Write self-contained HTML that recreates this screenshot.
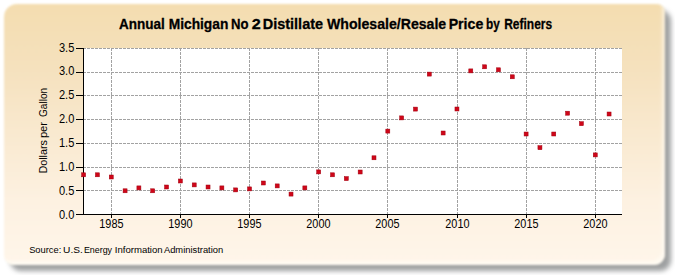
<!DOCTYPE html>
<html><head><meta charset="utf-8"><style>
html,body{margin:0;padding:0;width:675px;height:275px;overflow:hidden;background:#fff;}
.shadow{position:absolute;left:10px;top:9.5px;width:660.6px;height:261.3px;border-radius:11px;background:rgba(30,34,38,0.43);filter:blur(2.8px);}
.panel{position:absolute;left:3.5px;top:4px;width:661px;height:261px;border-radius:13px 8px 11px 9px;
background:linear-gradient(to bottom,#f4ddb0 0%,#f5e1bd 24%,#f9e9cf 49%,#fdf1e1 75%,#fff6ea 100%);
box-shadow:inset -3px -4px 3px rgba(255,255,250,0.55);filter:blur(1.1px);}
svg{position:absolute;left:0;top:0;}
text{font-family:"Liberation Sans",sans-serif;fill:#000;}
.t{font-size:12px;}
.title{font-size:14.9px;font-weight:bold;stroke:#000;stroke-width:0.3px;}
.yl{font-size:10.9px;}
.src{font-size:10.0px;}
</style></head><body>
<div class="shadow"></div><div class="panel"></div>
<svg width="675" height="275" viewBox="0 0 675 275" shape-rendering="crispEdges">
<rect x="83" y="48" width="539" height="166" fill="#ffffff"/>
<line x1="83" y1="48.5" x2="622" y2="48.5" stroke="#a2a2a2" stroke-width="1" stroke-dasharray="3,1"/>
<line x1="83" y1="72.5" x2="622" y2="72.5" stroke="#a2a2a2" stroke-width="1" stroke-dasharray="3,1"/>
<line x1="83" y1="95.5" x2="622" y2="95.5" stroke="#a2a2a2" stroke-width="1" stroke-dasharray="3,1"/>
<line x1="83" y1="119.5" x2="622" y2="119.5" stroke="#a2a2a2" stroke-width="1" stroke-dasharray="3,1"/>
<line x1="83" y1="143.5" x2="622" y2="143.5" stroke="#a2a2a2" stroke-width="1" stroke-dasharray="3,1"/>
<line x1="83" y1="167.5" x2="622" y2="167.5" stroke="#a2a2a2" stroke-width="1" stroke-dasharray="3,1"/>
<line x1="83" y1="190.5" x2="622" y2="190.5" stroke="#a2a2a2" stroke-width="1" stroke-dasharray="3,1"/>
<line x1="111.5" y1="48" x2="111.5" y2="214" stroke="#a2a2a2" stroke-width="1" stroke-dasharray="3,1"/>
<line x1="180.5" y1="48" x2="180.5" y2="214" stroke="#a2a2a2" stroke-width="1" stroke-dasharray="3,1"/>
<line x1="249.5" y1="48" x2="249.5" y2="214" stroke="#a2a2a2" stroke-width="1" stroke-dasharray="3,1"/>
<line x1="318.5" y1="48" x2="318.5" y2="214" stroke="#a2a2a2" stroke-width="1" stroke-dasharray="3,1"/>
<line x1="387.5" y1="48" x2="387.5" y2="214" stroke="#a2a2a2" stroke-width="1" stroke-dasharray="3,1"/>
<line x1="457.5" y1="48" x2="457.5" y2="214" stroke="#a2a2a2" stroke-width="1" stroke-dasharray="3,1"/>
<line x1="526.5" y1="48" x2="526.5" y2="214" stroke="#a2a2a2" stroke-width="1" stroke-dasharray="3,1"/>
<line x1="595.5" y1="48" x2="595.5" y2="214" stroke="#a2a2a2" stroke-width="1" stroke-dasharray="3,1"/>
<line x1="83.5" y1="48" x2="83.5" y2="215" stroke="#000" stroke-width="1"/>
<line x1="83" y1="214.5" x2="622" y2="214.5" stroke="#000" stroke-width="1"/>
<line x1="76" y1="48.5" x2="83" y2="48.5" stroke="#000" stroke-width="1"/>
<text transform="translate(74.3 51.60) scale(0.923 1)" text-anchor="end" class="t">3.5</text>
<line x1="76" y1="72.5" x2="83" y2="72.5" stroke="#000" stroke-width="1"/>
<text transform="translate(74.3 75.47) scale(0.923 1)" text-anchor="end" class="t">3.0</text>
<line x1="76" y1="95.5" x2="83" y2="95.5" stroke="#000" stroke-width="1"/>
<text transform="translate(74.3 99.34) scale(0.923 1)" text-anchor="end" class="t">2.5</text>
<line x1="76" y1="119.5" x2="83" y2="119.5" stroke="#000" stroke-width="1"/>
<text transform="translate(74.3 123.21) scale(0.923 1)" text-anchor="end" class="t">2.0</text>
<line x1="76" y1="143.5" x2="83" y2="143.5" stroke="#000" stroke-width="1"/>
<text transform="translate(74.3 147.08) scale(0.923 1)" text-anchor="end" class="t">1.5</text>
<line x1="76" y1="167.5" x2="83" y2="167.5" stroke="#000" stroke-width="1"/>
<text transform="translate(74.3 170.95) scale(0.923 1)" text-anchor="end" class="t">1.0</text>
<line x1="76" y1="190.5" x2="83" y2="190.5" stroke="#000" stroke-width="1"/>
<text transform="translate(74.3 194.82) scale(0.923 1)" text-anchor="end" class="t">0.5</text>
<line x1="76" y1="214.5" x2="83" y2="214.5" stroke="#000" stroke-width="1"/>
<text transform="translate(74.3 218.69) scale(0.923 1)" text-anchor="end" class="t">0.0</text>
<line x1="111.5" y1="215" x2="111.5" y2="218" stroke="#000" stroke-width="1"/>
<text transform="translate(111.4 228.2) scale(0.905 1)" text-anchor="middle" class="t">1985</text>
<line x1="180.5" y1="215" x2="180.5" y2="218" stroke="#000" stroke-width="1"/>
<text transform="translate(180.4 228.2) scale(0.905 1)" text-anchor="middle" class="t">1990</text>
<line x1="249.5" y1="215" x2="249.5" y2="218" stroke="#000" stroke-width="1"/>
<text transform="translate(249.4 228.2) scale(0.905 1)" text-anchor="middle" class="t">1995</text>
<line x1="318.5" y1="215" x2="318.5" y2="218" stroke="#000" stroke-width="1"/>
<text transform="translate(318.4 228.2) scale(0.905 1)" text-anchor="middle" class="t">2000</text>
<line x1="387.5" y1="215" x2="387.5" y2="218" stroke="#000" stroke-width="1"/>
<text transform="translate(387.4 228.2) scale(0.905 1)" text-anchor="middle" class="t">2005</text>
<line x1="457.5" y1="215" x2="457.5" y2="218" stroke="#000" stroke-width="1"/>
<text transform="translate(457.4 228.2) scale(0.905 1)" text-anchor="middle" class="t">2010</text>
<line x1="526.5" y1="215" x2="526.5" y2="218" stroke="#000" stroke-width="1"/>
<text transform="translate(526.4 228.2) scale(0.905 1)" text-anchor="middle" class="t">2015</text>
<line x1="595.5" y1="215" x2="595.5" y2="218" stroke="#000" stroke-width="1"/>
<text transform="translate(595.4 228.2) scale(0.905 1)" text-anchor="middle" class="t">2020</text>
<rect x="81.59" y="172.80" width="4" height="4" fill="#cf0619" stroke="#a0000f" stroke-width="0.5" shape-rendering="geometricPrecision"/>
<rect x="95.42" y="172.80" width="4" height="4" fill="#cf0619" stroke="#a0000f" stroke-width="0.5" shape-rendering="geometricPrecision"/>
<rect x="109.25" y="175.00" width="4" height="4" fill="#cf0619" stroke="#a0000f" stroke-width="0.5" shape-rendering="geometricPrecision"/>
<rect x="123.08" y="188.80" width="4" height="4" fill="#cf0619" stroke="#a0000f" stroke-width="0.5" shape-rendering="geometricPrecision"/>
<rect x="136.90" y="185.90" width="4" height="4" fill="#cf0619" stroke="#a0000f" stroke-width="0.5" shape-rendering="geometricPrecision"/>
<rect x="150.73" y="188.80" width="4" height="4" fill="#cf0619" stroke="#a0000f" stroke-width="0.5" shape-rendering="geometricPrecision"/>
<rect x="164.56" y="185.00" width="4" height="4" fill="#cf0619" stroke="#a0000f" stroke-width="0.5" shape-rendering="geometricPrecision"/>
<rect x="178.39" y="179.00" width="4" height="4" fill="#cf0619" stroke="#a0000f" stroke-width="0.5" shape-rendering="geometricPrecision"/>
<rect x="192.22" y="182.90" width="4" height="4" fill="#cf0619" stroke="#a0000f" stroke-width="0.5" shape-rendering="geometricPrecision"/>
<rect x="206.05" y="185.00" width="4" height="4" fill="#cf0619" stroke="#a0000f" stroke-width="0.5" shape-rendering="geometricPrecision"/>
<rect x="219.88" y="185.90" width="4" height="4" fill="#cf0619" stroke="#a0000f" stroke-width="0.5" shape-rendering="geometricPrecision"/>
<rect x="233.70" y="187.90" width="4" height="4" fill="#cf0619" stroke="#a0000f" stroke-width="0.5" shape-rendering="geometricPrecision"/>
<rect x="247.53" y="186.90" width="4" height="4" fill="#cf0619" stroke="#a0000f" stroke-width="0.5" shape-rendering="geometricPrecision"/>
<rect x="261.36" y="181.00" width="4" height="4" fill="#cf0619" stroke="#a0000f" stroke-width="0.5" shape-rendering="geometricPrecision"/>
<rect x="275.19" y="183.90" width="4" height="4" fill="#cf0619" stroke="#a0000f" stroke-width="0.5" shape-rendering="geometricPrecision"/>
<rect x="289.02" y="192.10" width="4" height="4" fill="#cf0619" stroke="#a0000f" stroke-width="0.5" shape-rendering="geometricPrecision"/>
<rect x="302.85" y="185.90" width="4" height="4" fill="#cf0619" stroke="#a0000f" stroke-width="0.5" shape-rendering="geometricPrecision"/>
<rect x="316.68" y="169.90" width="4" height="4" fill="#cf0619" stroke="#a0000f" stroke-width="0.5" shape-rendering="geometricPrecision"/>
<rect x="330.50" y="172.80" width="4" height="4" fill="#cf0619" stroke="#a0000f" stroke-width="0.5" shape-rendering="geometricPrecision"/>
<rect x="344.33" y="176.60" width="4" height="4" fill="#cf0619" stroke="#a0000f" stroke-width="0.5" shape-rendering="geometricPrecision"/>
<rect x="358.16" y="170.00" width="4" height="4" fill="#cf0619" stroke="#a0000f" stroke-width="0.5" shape-rendering="geometricPrecision"/>
<rect x="371.99" y="155.80" width="4" height="4" fill="#cf0619" stroke="#a0000f" stroke-width="0.5" shape-rendering="geometricPrecision"/>
<rect x="385.82" y="129.10" width="4" height="4" fill="#cf0619" stroke="#a0000f" stroke-width="0.5" shape-rendering="geometricPrecision"/>
<rect x="399.65" y="115.90" width="4" height="4" fill="#cf0619" stroke="#a0000f" stroke-width="0.5" shape-rendering="geometricPrecision"/>
<rect x="413.48" y="107.10" width="4" height="4" fill="#cf0619" stroke="#a0000f" stroke-width="0.5" shape-rendering="geometricPrecision"/>
<rect x="427.30" y="72.10" width="4" height="4" fill="#cf0619" stroke="#a0000f" stroke-width="0.5" shape-rendering="geometricPrecision"/>
<rect x="441.13" y="131.00" width="4" height="4" fill="#cf0619" stroke="#a0000f" stroke-width="0.5" shape-rendering="geometricPrecision"/>
<rect x="454.96" y="107.00" width="4" height="4" fill="#cf0619" stroke="#a0000f" stroke-width="0.5" shape-rendering="geometricPrecision"/>
<rect x="468.79" y="68.90" width="4" height="4" fill="#cf0619" stroke="#a0000f" stroke-width="0.5" shape-rendering="geometricPrecision"/>
<rect x="482.62" y="64.80" width="4" height="4" fill="#cf0619" stroke="#a0000f" stroke-width="0.5" shape-rendering="geometricPrecision"/>
<rect x="496.45" y="67.80" width="4" height="4" fill="#cf0619" stroke="#a0000f" stroke-width="0.5" shape-rendering="geometricPrecision"/>
<rect x="510.28" y="74.80" width="4" height="4" fill="#cf0619" stroke="#a0000f" stroke-width="0.5" shape-rendering="geometricPrecision"/>
<rect x="524.11" y="132.00" width="4" height="4" fill="#cf0619" stroke="#a0000f" stroke-width="0.5" shape-rendering="geometricPrecision"/>
<rect x="537.93" y="145.70" width="4" height="4" fill="#cf0619" stroke="#a0000f" stroke-width="0.5" shape-rendering="geometricPrecision"/>
<rect x="551.76" y="132.00" width="4" height="4" fill="#cf0619" stroke="#a0000f" stroke-width="0.5" shape-rendering="geometricPrecision"/>
<rect x="565.59" y="111.20" width="4" height="4" fill="#cf0619" stroke="#a0000f" stroke-width="0.5" shape-rendering="geometricPrecision"/>
<rect x="579.42" y="121.70" width="4" height="4" fill="#cf0619" stroke="#a0000f" stroke-width="0.5" shape-rendering="geometricPrecision"/>
<rect x="593.25" y="152.90" width="4" height="4" fill="#cf0619" stroke="#a0000f" stroke-width="0.5" shape-rendering="geometricPrecision"/>
<rect x="607.08" y="112.00" width="4" height="4" fill="#cf0619" stroke="#a0000f" stroke-width="0.5" shape-rendering="geometricPrecision"/>
<text transform="translate(119.04 28.8) scale(0.9082 1)" class="title">Annual</text>
<text transform="translate(168.67 28.8) scale(0.9250 1)" class="title">Michigan</text>
<text transform="translate(231.12 28.8) scale(0.8798 1)" class="title">No</text>
<text transform="translate(251.66 28.8) scale(1.0833 1)" class="title">2</text>
<text transform="translate(262.73 28.8) scale(0.9719 1)" class="title">Distillate</text>
<text transform="translate(327.00 28.8) scale(0.9482 1)" class="title">Wholesale/Resale</text>
<text transform="translate(448.65 28.8) scale(0.9513 1)" class="title">Price</text>
<text transform="translate(486.11 28.8) scale(0.7914 1)" class="title">by</text>
<text transform="translate(504.19 28.8) scale(0.8052 1)" class="title">Refiners</text>
<text transform="translate(47.4 173.59) rotate(-90) scale(0.9877 1)" class="yl">Dollars</text>
<text transform="translate(47.4 138.12) rotate(-90) scale(1.0268 1)" class="yl">per</text>
<text transform="translate(47.4 116.95) rotate(-90) scale(0.9205 1)" class="yl">Gallon</text>
<text transform="translate(29.13 252.6) scale(0.9333 0.94)" class="src">Source:</text>
<text transform="translate(63.09 252.6) scale(1.0169 0.94)" class="src">U.S.</text>
<text transform="translate(83.89 252.6) scale(0.8896 0.94)" class="src">Energy</text>
<text transform="translate(114.74 252.6) scale(0.9588 0.94)" class="src">Information</text>
<text transform="translate(163.90 252.6) scale(0.9362 0.94)" class="src">Administration</text>
</svg>
</body></html>
